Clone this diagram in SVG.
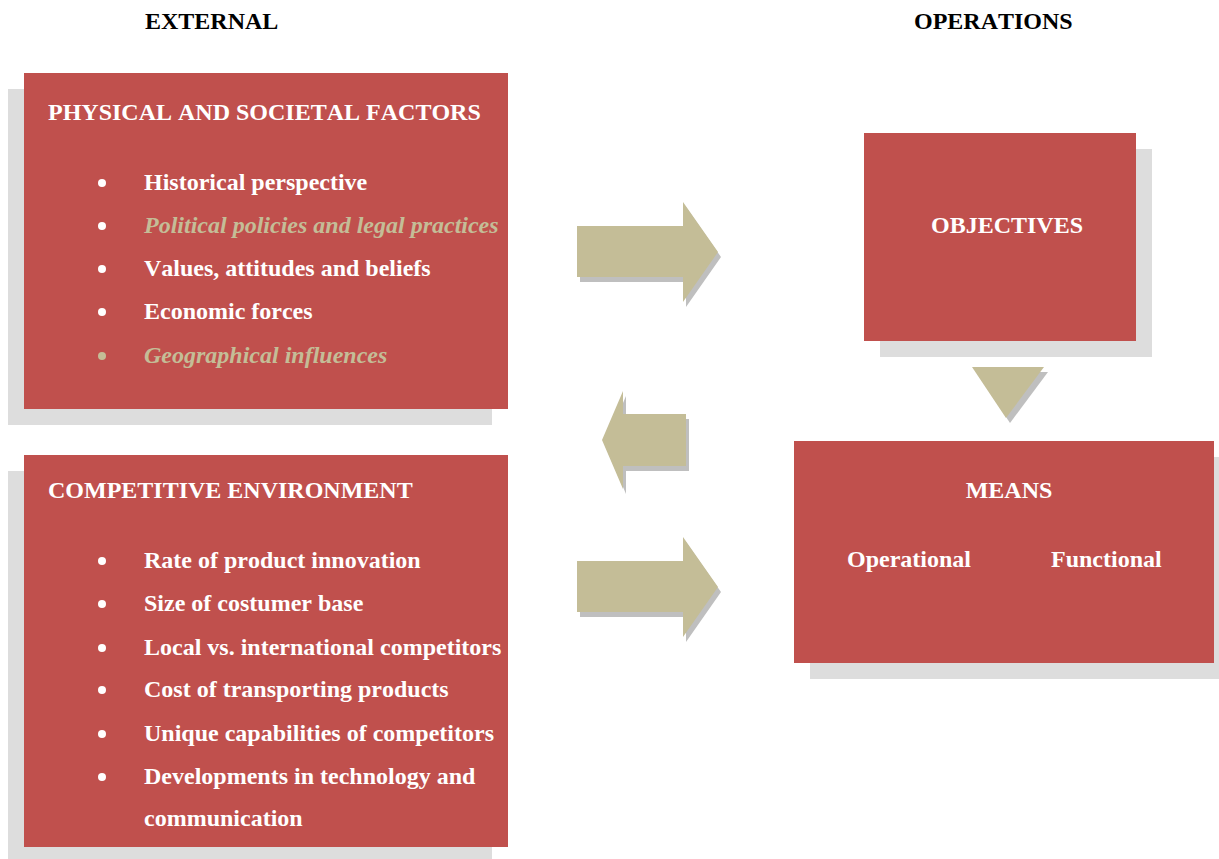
<svg xmlns="http://www.w3.org/2000/svg" width="1219" height="859" viewBox="0 0 1219 859">
  <style>
    .bg { fill: #ffffff; }
    .shadow { fill: #dddddd; }
    .box { fill: #c0504d; }
    .arrow { fill: #c4bd97; }
    .arrow-shadow { fill: #bfbfbf; }
    text { font-family: "Liberation Serif", "Times New Roman", serif; font-weight: bold; font-size: 24px; font-kerning: none; }
    .head { fill: #000000; }
    .lbl { fill: #ffffff; }
    .em { fill: #c4bd97; font-style: italic; }
    .dot { fill: #ffffff; }
    .dot-em { fill: #c4bd97; }
  </style>
  <defs>
    <path id="arrow-right" d="M0,24 H106 V0 L141,50 L106,100 V75 H0 Z"/>
    <path id="arrow-left" d="M84,23 H21 V0 L0,49 L21,98 V75 H84 Z"/>
    <path id="arrow-down" d="M0,0 H72 L34,51 Z"/>
  </defs>
  <rect class="bg" x="0" y="0" width="1219" height="859"/>

  <!-- column headings -->
  <text class="head" x="145" y="29">EXTERNAL</text>
  <text class="head" x="914" y="29">OPERATIONS</text>

  <!-- physical and societal factors -->
  <g id="physical-societal">
    <rect class="shadow" x="8" y="89" width="484" height="336"/>
    <rect class="box" x="24" y="73" width="484" height="336"/>
    <text class="lbl" x="48" y="120">PHYSICAL AND SOCIETAL FACTORS</text>
    <circle class="dot" cx="102" cy="183" r="4"/>
    <text class="lbl" x="144" y="190">Historical perspective</text>
    <circle class="dot" cx="102" cy="226" r="4"/>
    <text class="em" x="144" y="233">Political policies and legal practices</text>
    <circle class="dot" cx="102" cy="269" r="4"/>
    <text class="lbl" x="144" y="276">Values, attitudes and beliefs</text>
    <circle class="dot" cx="102" cy="312" r="4"/>
    <text class="lbl" x="144" y="319">Economic forces</text>
    <circle class="dot-em" cx="102" cy="356" r="4"/>
    <text class="em" x="144" y="363">Geographical influences</text>
  </g>

  <!-- competitive environment -->
  <g id="competitive-environment">
    <rect class="shadow" x="8" y="471" width="484" height="392"/>
    <rect class="box" x="24" y="455" width="484" height="392"/>
    <text class="lbl" x="48" y="498">COMPETITIVE ENVIRONMENT</text>
    <circle class="dot" cx="102" cy="561" r="4"/>
    <text class="lbl" x="144" y="568">Rate of product innovation</text>
    <circle class="dot" cx="102" cy="604" r="4"/>
    <text class="lbl" x="144" y="611">Size of costumer base</text>
    <circle class="dot" cx="102" cy="648" r="4"/>
    <text class="lbl" x="144" y="655">Local vs. international competitors</text>
    <circle class="dot" cx="102" cy="690" r="4"/>
    <text class="lbl" x="144" y="697">Cost of transporting products</text>
    <circle class="dot" cx="102" cy="734" r="4"/>
    <text class="lbl" x="144" y="741">Unique capabilities of competitors</text>
    <circle class="dot" cx="102" cy="777" r="4"/>
    <text class="lbl" x="144" y="784">Developments in technology and</text>
    <text class="lbl" x="144" y="826">communication</text>
  </g>

  <!-- objectives -->
  <g id="objectives">
    <rect class="shadow" x="880" y="149" width="272" height="208"/>
    <rect class="box" x="864" y="133" width="272" height="208"/>
    <text class="lbl" x="931" y="233">OBJECTIVES</text>
  </g>

  <!-- means -->
  <g id="means">
    <rect class="shadow" x="810" y="457" width="420" height="222"/>
    <rect class="box" x="794" y="441" width="420" height="222"/>
    <text class="lbl" x="1009" y="498" text-anchor="middle">MEANS</text>
    <text class="lbl" x="847" y="567">Operational</text>
    <text class="lbl" x="1051" y="567">Functional</text>
  </g>

  <!-- block arrows -->
  <g id="connectors">
    <g transform="translate(577,202)">
      <use href="#arrow-right" class="arrow-shadow" transform="translate(3,5)"/>
      <use href="#arrow-right" class="arrow"/>
    </g>
    <g transform="translate(577,537)">
      <use href="#arrow-right" class="arrow-shadow" transform="translate(3,5)"/>
      <use href="#arrow-right" class="arrow"/>
    </g>
    <g transform="translate(602,391)">
      <use href="#arrow-left" class="arrow-shadow" transform="translate(3,5)"/>
      <use href="#arrow-left" class="arrow"/>
    </g>
    <g transform="translate(972,367)">
      <use href="#arrow-down" class="arrow-shadow" transform="translate(4,5)"/>
      <use href="#arrow-down" class="arrow"/>
    </g>
  </g>
</svg>
